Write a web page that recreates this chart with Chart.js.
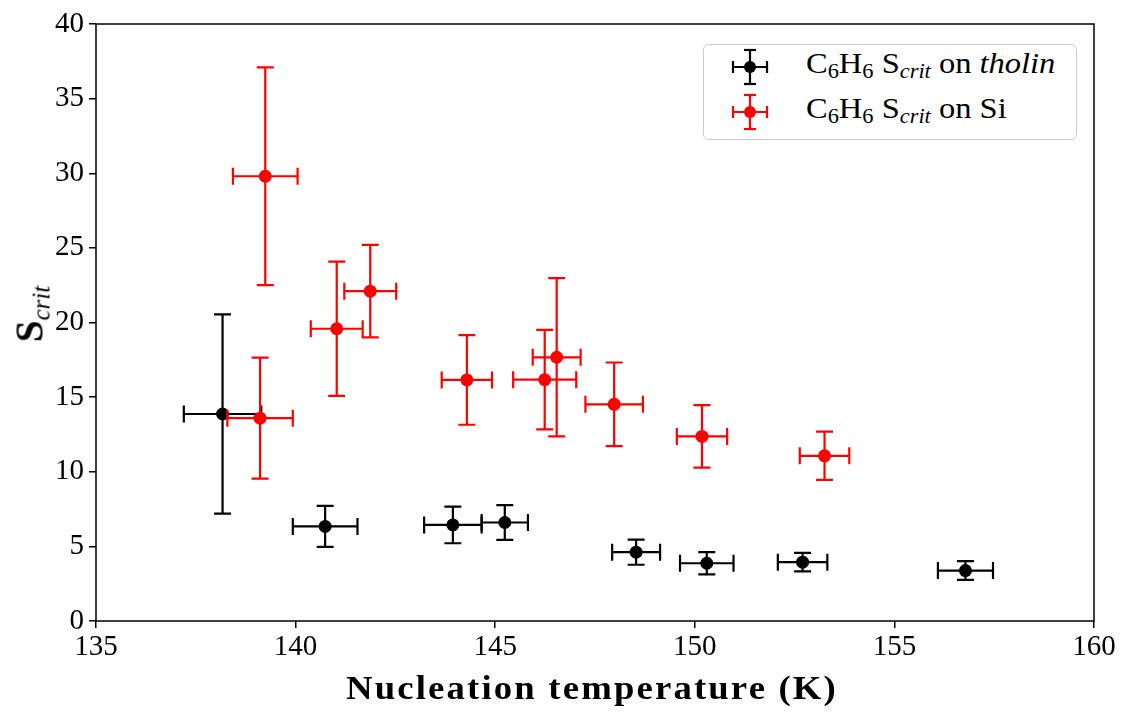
<!DOCTYPE html>
<html>
<head>
<meta charset="utf-8">
<script src="https://cdn.jsdelivr.net/npm/chart.js@4.4.1/dist/chart.umd.min.js"></script>
<style>
  body { margin: 0; background: #fff; }
  #wrap { position: relative; width: 1129px; height: 719px; font-family: "Liberation Serif", serif; }
  #ytitle { position: absolute; left: 31px; top: 314px; transform: translate(-50%, -50%) rotate(-90deg); white-space: nowrap; font-size: 39px; font-weight: bold; }
  #ytitle sub { font-size: 25px; font-weight: normal; font-style: italic; vertical-align: -7px; }
  #xtitle { position: absolute; left: 592px; top: 688px; transform: translate(-50%, -50%) scaleX(1.08); white-space: nowrap; font-size: 34px; font-weight: bold; letter-spacing: 2px; }
  #legend { position: absolute; left: 703px; top: 44px; width: 372px; height: 94px; border: 1.5px solid #ccc; border-radius: 6px; background: #fff; }
  .row { position: absolute; left: 0; height: 40px; width: 100%; }
  .row svg { position: absolute; left: 26px; top: 0px; }
  .row span { position: absolute; left: 102px; top: 0px; font-size: 29px; white-space: nowrap; transform: scaleX(1.12); transform-origin: left center; }
  .row sub { font-size: 20px; vertical-align: -5px; }
</style>
</head>
<body>
<div id="wrap">
  <canvas id="chart" width="1129" height="719"></canvas>
  <div id="ytitle">S<sub>crit</sub></div>
  <div id="xtitle">Nucleation temperature (K)</div>
  <div id="legend">
    <div class="row" style="top:2px">
      <svg width="40" height="40" viewBox="0 0 40 40" stroke="#000" stroke-width="2.2">
        <line x1="3" y1="20" x2="37" y2="20"/><line x1="3" y1="14" x2="3" y2="26"/><line x1="37" y1="14" x2="37" y2="26"/>
        <line x1="20" y1="3" x2="20" y2="37"/><line x1="14" y1="3" x2="26" y2="3"/><line x1="14" y1="37" x2="26" y2="37"/>
        <circle cx="20" cy="20" r="6" fill="#000" stroke="none"/>
      </svg>
      <span>C<sub>6</sub>H<sub>6</sub> S<sub><i>crit</i></sub> on <i>tholin</i></span>
    </div>
    <div class="row" style="top:47px">
      <svg width="40" height="40" viewBox="0 0 40 40" stroke="#ff0000" stroke-width="2.2">
        <line x1="3" y1="20" x2="37" y2="20"/><line x1="3" y1="14" x2="3" y2="26"/><line x1="37" y1="14" x2="37" y2="26"/>
        <line x1="20" y1="3" x2="20" y2="37"/><line x1="14" y1="3" x2="26" y2="3"/><line x1="14" y1="37" x2="26" y2="37"/>
        <circle cx="20" cy="20" r="6" fill="#ff0000" stroke="none"/>
      </svg>
      <span>C<sub>6</sub>H<sub>6</sub> S<sub><i>crit</i></sub> on Si</span>
    </div>
  </div>
</div>
<script>
// C6H6 on tholin
const tholinTemp    = [138.17, 140.74, 143.94, 145.24, 148.53, 150.30, 152.70, 156.78];
const tholinS       = [13.87, 6.34, 6.44, 6.60, 4.61, 3.87, 3.94, 3.38];
const tholinTempErr = [0.97, 0.81, 0.72, 0.58, 0.60, 0.67, 0.62, 0.69];
const tholinSErr    = [6.67, 1.38, 1.23, 1.16, 0.84, 0.74, 0.62, 0.63];

// C6H6 on Si
const siTemp    = [139.24, 139.11, 141.03, 141.87, 144.29, 146.24, 146.54, 147.98, 150.18, 153.25];
const siS       = [29.80, 13.59, 19.58, 22.10, 16.15, 16.17, 17.67, 14.52, 12.37, 11.07];
const siTempErr = [0.81, 0.82, 0.65, 0.65, 0.63, 0.79, 0.60, 0.72, 0.63, 0.62];
const siSErr    = [7.30, 4.05, 4.50, 3.10, 3.00, 3.33, 5.30, 2.80, 2.10, 1.62];

const xTicks = [135, 140, 145, 150, 155, 160];
const yTicks = [0, 5, 10, 15, 20, 25, 30, 35, 40];

function toPoints(xs, ys) {
    return xs.map((v, i) => ({ x: v, y: ys[i] }));
}

// barres d'erreur, dessinées avant les points de chaque dataset
const errorBars = {
    id: 'errorBars',
    beforeDatasetDraw(chart, args) {
        const ds = chart.data.datasets[args.index];
        const sx = chart.scales.x, sy = chart.scales.y;
        const ctx = chart.ctx;
        const cap = 8.5;
        ctx.save();
        ctx.strokeStyle = ds.backgroundColor;
        ctx.lineWidth = 2.2;
        ds.data.forEach((p, i) => {
            const px = sx.getPixelForValue(p.x);
            const py = sy.getPixelForValue(p.y);
            const xl = sx.getPixelForValue(p.x - ds.xErr[i]);
            const xr = sx.getPixelForValue(p.x + ds.xErr[i]);
            const yt = sy.getPixelForValue(p.y + ds.yErr[i]);
            const yb = sy.getPixelForValue(p.y - ds.yErr[i]);
            ctx.beginPath();
            ctx.moveTo(xl, py); ctx.lineTo(xr, py);
            ctx.moveTo(xl, py - cap); ctx.lineTo(xl, py + cap);
            ctx.moveTo(xr, py - cap); ctx.lineTo(xr, py + cap);
            ctx.moveTo(px, yt); ctx.lineTo(px, yb);
            ctx.moveTo(px - cap, yt); ctx.lineTo(px + cap, yt);
            ctx.moveTo(px - cap, yb); ctx.lineTo(px + cap, yb);
            ctx.stroke();
        });
        ctx.restore();
    }
};

// cadre autour de la zone du graphe
const frame = {
    id: 'frame',
    afterDraw(chart) {
        const a = chart.chartArea;
        const ctx = chart.ctx;
        ctx.save();
        ctx.strokeStyle = '#000';
        ctx.lineWidth = 1.5;
        ctx.strokeRect(a.left, a.top, a.right - a.left, a.bottom - a.top);
        ctx.restore();
    }
};

const tickFont = { family: '"Liberation Serif", serif', size: 29 };

let chart = new Chart(document.getElementById('chart'), {
    type: 'scatter',
    data: {
        datasets: [{
            label: 'tholin',
            data: toPoints(tholinTemp, tholinS),
            xErr: tholinTempErr,
            yErr: tholinSErr,
            backgroundColor: '#000000',
            pointRadius: 6.5,
            pointBorderWidth: 0,
            order: 2
        }, {
            label: 'Si',
            data: toPoints(siTemp, siS),
            xErr: siTempErr,
            yErr: siSErr,
            backgroundColor: '#ff0000',
            pointRadius: 6.5,
            pointBorderWidth: 0,
            order: 1
        }]
    },
    options: {
        responsive: false,
        animation: false,
        layout: { padding: { left: 0, top: 24, right: 35, bottom: 0 } },
        plugins: {
            legend: { display: false },
            tooltip: { enabled: false }
        },
        scales: {
            x: {
                type: 'linear',
                min: 135,
                max: 160,
                afterFit: s => { s.height = 98; },
                afterBuildTicks: s => { s.ticks = xTicks.map(v => ({ value: v })); },
                border: { display: false },
                grid: { drawOnChartArea: false, drawTicks: true, tickLength: 7, color: '#000', lineWidth: 1.5 },
                ticks: { color: '#000', font: tickFont, padding: 2, maxRotation: 0 }
            },
            y: {
                type: 'linear',
                min: 0,
                max: 40,
                afterFit: s => { s.width = 96; },
                afterBuildTicks: s => { s.ticks = yTicks.map(v => ({ value: v })); },
                border: { display: false },
                grid: { drawOnChartArea: false, drawTicks: true, tickLength: 7, color: '#000', lineWidth: 1.5 },
                ticks: { color: '#000', font: tickFont, padding: 5 }
            }
        }
    },
    plugins: [errorBars, frame]
});
</script>
</body>
</html>
